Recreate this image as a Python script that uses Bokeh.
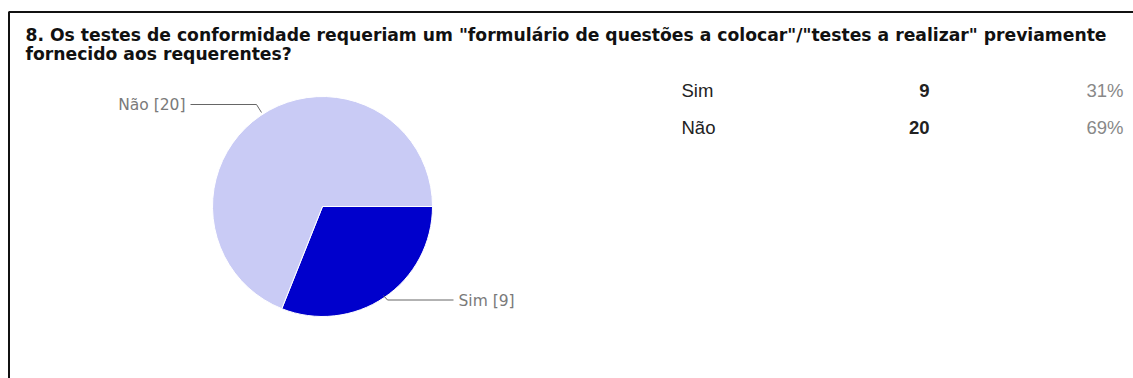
import math
from bokeh.plotting import figure
from bokeh.models import Range1d, ColumnDataSource
from bokeh.core.properties import value
from bokeh.embed import file_html
from bokeh.resources import INLINE

# ---- data ----
title_lines = ['8. Os testes de conformidade requeriam um "formulário de questões a colocar"/"testes a realizar" previamente',
               'fornecido aos requerentes?']
categories = ["Sim", "Não"]
counts = [9, 20]
colors = ["#0000CC", "#C9CBF5"]

W, H = 1133, 378
p = figure(width=W, height=H, output_backend="svg", toolbar_location=None,
           x_range=Range1d(0, W), y_range=Range1d(H, 0), min_border=0)
p.axis.visible = False
p.grid.visible = False
p.outline_line_color = None
p.background_fill_color = "white"
p.border_fill_color = "white"

# frame border (top + left visible)
p.line(x=[8.5, 8.5, W + 10], y=[H + 10, 11.5, 11.5], line_color="#111111", line_width=2)

# title
for i, t in enumerate(title_lines):
    p.text(x=[25], y=[34 + i * 19], text=[t], text_font=value("DejaVu Sans"),
           text_font_style="bold", text_font_size="17.2px", text_color="#111111",
           text_baseline="middle", text_align="left")

# pie: Sim starts at 3 o'clock and runs clockwise
cx, cy, r = 322, 206, 110
total = sum(counts)
starts, ends = [], []
acc = 0.0
for c in counts:
    a0 = 2 * math.pi * acc / total
    acc += c
    a1 = 2 * math.pi * acc / total
    starts.append(-a1)
    ends.append(-a0)
src = ColumnDataSource(dict(start=starts, end=ends, color=colors, cat=categories))
p.wedge(x=cx, y=cy, radius=r, start_angle="start", end_angle="end", direction="anticlock",
        fill_color="color", line_color="white", line_width=1, source=src)

# leader lines and slice labels
p.line(x=[190, 256, 261], y=[104, 104, 112], line_color="#666666", line_width=1)
p.line(x=[383, 387, 453], y=[295, 299.5, 299.5], line_color="#666666", line_width=1)
p.text(x=[185], y=[104], text=[f"{categories[1]} [{counts[1]}]"], text_font=value("DejaVu Sans"),
       text_font_size="15.5px", text_color="#7a7a7a", text_baseline="middle", text_align="right")
p.text(x=[458], y=[300], text=[f"{categories[0]} [{counts[0]}]"], text_font=value("DejaVu Sans"),
       text_font_size="15.5px", text_color="#7a7a7a", text_baseline="middle", text_align="left")

# summary table
row_y = [90, 127]
pcts = [f"{round(100 * c / total)}%" for c in counts]
p.text(x=[681] * 2, y=row_y, text=categories, text_font=value("Liberation Sans"),
       text_font_size="18.5px", text_color="#222222", text_baseline="middle", text_align="left")
p.text(x=[929] * 2, y=row_y, text=[str(c) for c in counts], text_font=value("Liberation Sans"),
       text_font_style="bold", text_font_size="18.5px", text_color="#222222",
       text_baseline="middle", text_align="right")
p.text(x=[1123] * 2, y=row_y, text=pcts, text_font=value("Liberation Sans"),
       text_font_size="18.5px", text_color="#888888", text_baseline="middle", text_align="right")

open("out.html", "w").write(file_html(p, INLINE))
